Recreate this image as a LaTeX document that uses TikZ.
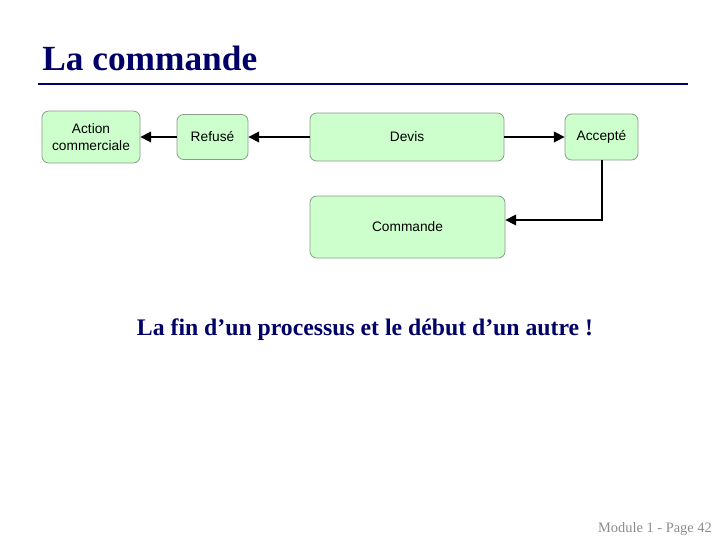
\documentclass[tikz,border=0pt]{standalone}
\usepackage{fontspec}
\setmainfont{Liberation Serif}
\newfontfamily\boxfont{Liberation Sans}
\usetikzlibrary{arrows.meta}
\definecolor{navy}{HTML}{000066}
\definecolor{boxfill}{HTML}{CCFFCC}
\definecolor{boxline}{HTML}{8A9A8A}
\tikzset{
  procbox/.style={draw=boxline, fill=boxfill, rounded corners=5pt, line width=0.6pt,
    font=\boxfont\fontsize{10.3pt}{12.5pt}\selectfont, align=center, inner sep=0pt},
  flow/.style={line width=1.1pt, -{Triangle[length=8pt,width=8pt]}}
}
\begin{document}
\begin{tikzpicture}[x=0.75pt,y=-0.75pt]
\useasboundingbox (0,0) rectangle (720,540);
\node[anchor=base west, font=\bfseries\fontsize{26.5pt}{30pt}\selectfont, text=navy, inner sep=0pt] (title) at (42,70) {La commande};
\draw[navy, line width=0.9pt] (38,84) -- (688,84);
\node[procbox, minimum width=73.5pt, minimum height=39pt] (action) at (91,137) {Action\\commerciale};
\node[procbox, minimum width=53.25pt, minimum height=33.75pt] (refuse) at (212.5,137) {Refusé};
\node[procbox, minimum width=145.5pt, minimum height=36pt] (devis) at (407,137) {Devis};
\node[procbox, minimum width=54.75pt, minimum height=34.5pt] (accepte) at (601.5,137) {Accepté};
\node[procbox, minimum width=146.25pt, minimum height=46.5pt] (commande) at (407.5,227) {Commande};
\coordinate (bend) at (602,220);
\draw[flow] (devis.west) -- (refuse.east);
\draw[flow] (refuse.west) -- (action.east);
\draw[flow] (devis.east) -- (accepte.west);
\draw[flow] (accepte.south -| bend) -- (bend) -- (commande.east |- bend);
\node[font=\bfseries\fontsize{17.8pt}{21pt}\selectfont, text=navy, inner sep=0pt] (sub) at (365,330) {La fin d’un processus et le début d’un autre !};
\node[anchor=base east, font=\fontsize{10.8pt}{13pt}\selectfont, text=black!45, inner sep=0pt] (foot) at (712,532) {Module 1 - Page 42};
\end{tikzpicture}
\end{document}
